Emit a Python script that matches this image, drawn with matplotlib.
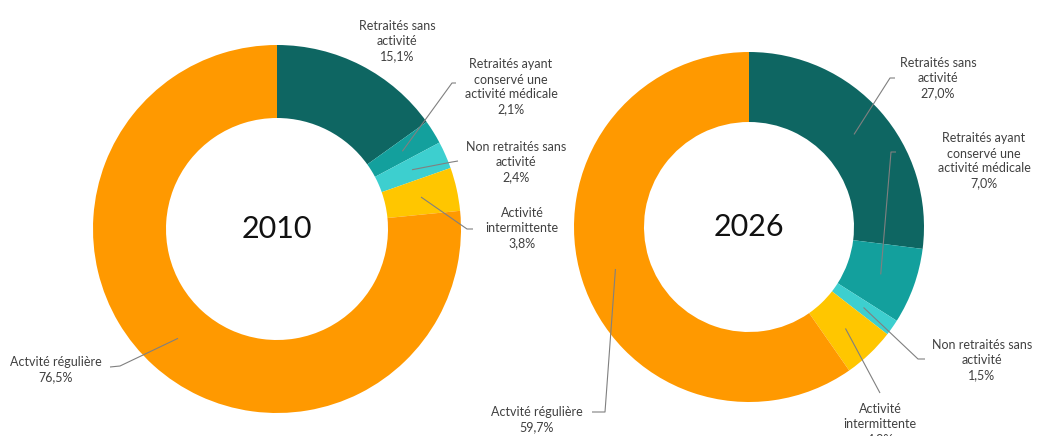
import matplotlib
matplotlib.use("Agg")
import matplotlib.pyplot as plt
import numpy as np

plt.rcParams['font.family'] = ['Lato', 'DejaVu Sans']

# ---- data ----
categories = ["Retraités sans\nactivité",
              "Retraités ayant\nconservé une\nactivité médicale",
              "Non retraités sans\nactivité",
              "Activité\nintermittente",
              "Actvité régulière"]
years = ["2010", "2026"]
values_2010 = [15.1, 2.1, 2.4, 3.8, 76.5]
values_2026 = [27.0, 7.0, 1.5, 4.8, 59.7]
value_labels_2010 = ["15,1%", "2,1%", "2,4%", "3,8%", "76,5%"]
value_labels_2026 = ["27,0%", "7,0%", "1,5%", "4,8%", "59,7%"]

colors = ['#0E6662', '#13A09D', '#3DCFCF', '#FFC600', '#FF9900']

W, H = 1051, 436

# layout (pixel coords, y from top)
donuts = [
    dict(center=(277, 229), r_out=184, r_in=111),
    dict(center=(749, 227), r_out=175, r_in=105),
]
# per label: text centre, leader path start points (None = no leader)
label_layout = [
    [dict(text=(397, 41), path=None),
     dict(text=(511, 87), path=[(456, 83), (452, 83)]),
     dict(text=(516, 162), path=[(458, 161), (452, 162)]),
     dict(text=(522, 228), path=[(473, 229), (467, 229)]),
     dict(text=(56, 370), path=[(110, 367), (120, 366)])],
    [dict(text=(938, 78), path=[(895, 78), (890, 78)]),
     dict(text=(984, 161), path=[(896, 152), (891, 152)]),
     dict(text=(982, 360), path=[(925, 359), (918, 359)]),
     dict(text=(880, 424), path=[(880, 393)]),
     dict(text=(537, 420), path=[(592, 412), (605, 412)])],
]

fig = plt.figure(figsize=(W / 100, H / 100), dpi=100)
ax = fig.add_axes([0, 0, 1, 1])

def Y(y):
    return H - y

text_color = '#404040'
line_color = '#808080'

for k, (vals, vlabels) in enumerate([(values_2010, value_labels_2010),
                                      (values_2026, value_labels_2026)]):
    d = donuts[k]
    cx, cy = d['center']
    wedges, _ = ax.pie(vals, colors=colors, startangle=90, counterclock=False,
                       radius=d['r_out'], center=(cx, Y(cy)), frame=True,
                       wedgeprops=dict(width=d['r_out'] - d['r_in'],
                                       edgecolor='none', linewidth=0))
    ax.text(cx, Y(cy), years[k], ha='center', va='center', fontsize=22,
            color='#111111')
    rmid = (d['r_out'] + d['r_in']) / 2
    for i, w in enumerate(wedges):
        lay = label_layout[k][i]
        tx, ty = lay['text']
        ax.text(tx, Y(ty), categories[i] + "\n" + vlabels[i], ha='center',
                va='center', fontsize=9, color=text_color, linespacing=1.3)
        if lay['path'] is not None:
            ang = np.deg2rad((w.theta1 + w.theta2) / 2)
            ex = cx + rmid * np.cos(ang)
            ey = Y(cy) + rmid * np.sin(ang)
            xs = [p[0] for p in lay['path']] + [ex]
            ys = [Y(p[1]) for p in lay['path']] + [ey]
            ax.plot(xs, ys, color=line_color, lw=0.8, solid_capstyle='butt')

ax.set_xlim(0, W)
ax.set_ylim(0, H)
ax.set_aspect('equal')
ax.axis('off')
fig.savefig('out.png', dpi=100, facecolor='white')
